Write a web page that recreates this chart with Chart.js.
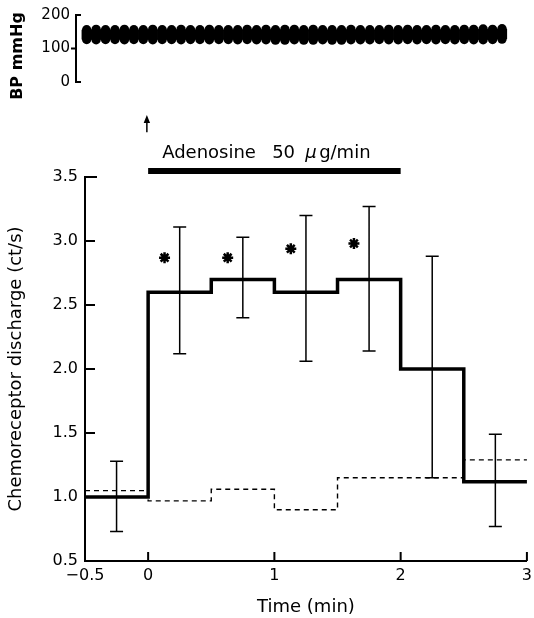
<!DOCTYPE html>
<html>
<head>
<meta charset="utf-8">
<script src="https://cdn.jsdelivr.net/npm/chart.js@4.4.1/dist/chart.umd.min.js"></script>
<style>
  html, body { margin: 0; padding: 0; background: #fff; overflow: hidden; }
  #wrap { position: relative; width: 534px; height: 618px; overflow: hidden; }
  canvas { position: absolute; left: 0; top: 0; }
</style>
</head>
<body>
<div id="wrap">
  <canvas id="main" width="537" height="618"></canvas>
  <canvas id="bp" width="534" height="100"></canvas>
</div>
<script>
// 30 s bins (min)
const binEdges = [-0.5, 0, 0.5, 1, 1.5, 2, 2.5, 3];
const adenosineMean = [1.0, 2.6, 2.7, 2.6, 2.7, 2.0, 1.12];
const controlMean = [1.05, 0.97, 1.06, 0.90, 1.15, 1.15, 1.29];

// error bars (SE) at bin centres
const errTime = [-0.25, 0.25, 0.75, 1.25, 1.75, 2.25, 2.75];
const errUpper = [1.28, 3.11, 3.03, 3.20, 3.27, 2.88, 1.49];
const errLower = [0.73, 2.12, 2.40, 2.06, 2.14, 1.15, 0.77];

// significance marks
const starTime = [0.13, 0.63, 1.13, 1.63];
const starValue = [2.87, 2.87, 2.94, 2.98];

const xTicks = [-0.5, 0, 1, 2, 3];
const yTicks = [0.5, 1.0, 1.5, 2.0, 2.5, 3.0, 3.5];

// infusion period + start arrow
const infusionTime = [0, 2];
const infusionLevel = 3.547;
const arrowTime = -0.01;
const arrowSpan = [3.85, 3.93];

// blood pressure per beat (mmHg)
const bpSys = [156, 157, 156, 156, 157, 156, 156, 157, 156, 156,
               157, 156, 156, 157, 156, 156, 156, 157, 156, 157,
               156, 157, 157, 156, 157, 156, 156, 156, 157, 156,
               156, 156, 157, 156, 157, 156, 156, 157, 156, 156,
               157, 157, 158, 157, 159];
const bpDia = [127, 126, 127, 127, 126, 127, 127, 126, 127, 127,
               126, 127, 127, 126, 127, 127, 126, 127, 126, 126,
               125, 125, 126, 125, 125, 126, 125, 125, 126, 126,
               126, 127, 126, 126, 127, 126, 127, 126, 127, 126,
               127, 126, 126, 127, 128];
const bpTicks = [0, 100, 200];

Chart.defaults.font.family = '"DejaVu Sans", sans-serif';
Chart.defaults.color = '#000';

function steps(mean) {
  return binEdges.map((x, i) => ({ x: x, y: mean[Math.min(i, mean.length - 1)] }));
}

const mainExtras = {
  id: 'mainExtras',
  afterDatasetsDraw(chart) {
    const { ctx, chartArea, scales: { x, y } } = chart;
    ctx.save();
    ctx.strokeStyle = '#000';
    ctx.fillStyle = '#000';
    ctx.lineWidth = 1.5;
    ctx.beginPath();
    errTime.forEach((t, i) => {
      const px = x.getPixelForValue(t);
      const top = y.getPixelForValue(errUpper[i]);
      const bot = y.getPixelForValue(errLower[i]);
      ctx.moveTo(px, top); ctx.lineTo(px, bot);
      ctx.moveTo(px - 6.5, top); ctx.lineTo(px + 6.5, top);
      ctx.moveTo(px - 6.5, bot); ctx.lineTo(px + 6.5, bot);
    });
    ctx.stroke();

    // inward ticks
    ctx.lineWidth = 2;
    ctx.beginPath();
    yTicks.forEach((v, i) => {
      const py = y.getPixelForValue(v);
      ctx.moveTo(chartArea.left, py);
      ctx.lineTo(chartArea.left + (i === yTicks.length - 1 ? 12 : 10), py);
    });
    xTicks.slice(1).forEach(v => {
      const px = x.getPixelForValue(v);
      ctx.moveTo(px, chartArea.bottom);
      ctx.lineTo(px, chartArea.bottom - 9);
    });
    ctx.stroke();

    // arrow head
    const ax = x.getPixelForValue(arrowTime);
    const ay = y.getPixelForValue(arrowSpan[1]);
    ctx.beginPath();
    ctx.moveTo(ax, ay - 7);
    ctx.lineTo(ax - 3.2, ay + 1);
    ctx.lineTo(ax + 3.2, ay + 1);
    ctx.closePath();
    ctx.fill();

    // infusion label
    const x0 = x.getPixelForValue(infusionTime[0]);
    const base = y.getPixelForValue(infusionLevel) - 13;
    ctx.textBaseline = 'alphabetic';
    ctx.font = '18px "DejaVu Sans"';
    ctx.fillText('Adenosine', x0 + 14, base);
    ctx.fillText('50', x0 + 124, base);
    ctx.font = 'italic 18px "DejaVu Sans"';
    ctx.fillText('μ', x0 + 157, base);
    ctx.font = '18px "DejaVu Sans"';
    ctx.fillText('g/min', x0 + 171, base);
    ctx.restore();
  }
};

new Chart(document.getElementById('main'), {
  type: 'line',
  data: {
    datasets: [
      {
        data: steps(adenosineMean),
        stepped: 'before',
        borderColor: '#000',
        borderWidth: 3.5,
        pointRadius: 0
      },
      {
        data: steps(controlMean),
        stepped: 'before',
        borderColor: '#000',
        borderWidth: 1.4,
        borderDash: [5, 4],
        pointRadius: 0
      },
      {
        data: starTime.map((t, i) => ({ x: t, y: starValue[i] })),
        showLine: false,
        pointStyle: 'star',
        pointRadius: 5.5,
        pointBorderWidth: 2.5,
        pointBorderColor: '#000'
      },
      {
        data: infusionTime.map(t => ({ x: t, y: infusionLevel })),
        borderColor: '#000',
        borderWidth: 6,
        borderCapStyle: 'butt',
        pointRadius: 0,
        clip: false
      },
      {
        data: arrowSpan.map(v => ({ x: arrowTime, y: v })),
        borderColor: '#000',
        borderWidth: 1.5,
        pointRadius: 0,
        clip: false
      }
    ]
  },
  options: {
    responsive: false,
    animation: false,
    layout: { padding: { top: 177, right: 0, bottom: 0, left: 0 } },
    plugins: { legend: { display: false }, tooltip: { enabled: false } },
    scales: {
      x: {
        type: 'linear',
        min: -0.5,
        max: 3,
        afterBuildTicks(s) { s.ticks = xTicks.map(v => ({ value: v })); },
        afterFit(s) { s.height = 57; },
        ticks: {
          padding: 5,
          font: { size: 16 },
          callback: v => (v < 0 ? '\u2212' + Math.abs(v) : String(v))
        },
        grid: { display: false, drawTicks: false },
        border: { color: '#000', width: 2 },
        title: { display: true, text: 'Time (min)', font: { size: 18 }, padding: { top: 0, bottom: 0 } }
      },
      y: {
        min: 0.5,
        max: 3.5,
        afterBuildTicks(s) { s.ticks = yTicks.map(v => ({ value: v })); },
        afterFit(s) { s.width = 85; },
        ticks: {
          padding: 7,
          font: { size: 16 },
          callback: v => v.toFixed(1)
        },
        grid: { display: false, drawTicks: false },
        border: { color: '#000', width: 2 },
        title: { display: true, text: 'Chemoreceptor discharge (ct/s)', font: { size: 18 }, padding: { top: 6, bottom: 0 } }
      }
    }
  },
  plugins: [mainExtras]
});

const bpExtras = {
  id: 'bpExtras',
  afterDraw(chart) {
    const { ctx, chartArea, scales: { y } } = chart;
    ctx.save();
    ctx.strokeStyle = '#000';
    ctx.lineWidth = 2;
    ctx.beginPath();
    bpTicks.forEach(v => {
      const py = y.getPixelForValue(v);
      const dir = v === 100 ? -1 : 1;
      ctx.moveTo(chartArea.left, py);
      ctx.lineTo(chartArea.left + dir * 5, py);
    });
    ctx.stroke();
    ctx.translate(18, 56);
    ctx.rotate(-Math.PI / 2);
    ctx.fillStyle = '#000';
    ctx.font = 'bold 16px "DejaVu Sans"';
    ctx.textAlign = 'center';
    ctx.textBaseline = 'middle';
    ctx.fillText('BP mmHg', 0, 0);
    ctx.restore();
  }
};

new Chart(document.getElementById('bp'), {
  type: 'bar',
  data: {
    datasets: [
      {
        type: 'bar',
        data: bpSys.map((s, i) => ({ x: i + 1, y: [bpDia[i], s] })),
        backgroundColor: '#000',
        borderWidth: 0,
        barPercentage: 1.08,
        categoryPercentage: 1
      },
      {
        type: 'line',
        data: bpSys.map((s, i) => ({ x: i + 1, y: s })),
        showLine: false,
        pointRadius: 4.7,
        pointBackgroundColor: '#000',
        pointBorderWidth: 0
      },
      {
        type: 'line',
        data: bpDia.map((d, i) => ({ x: i + 1, y: d })),
        showLine: false,
        pointRadius: 4.7,
        pointBackgroundColor: '#000',
        pointBorderWidth: 0
      }
    ]
  },
  options: {
    responsive: false,
    animation: false,
    layout: { padding: { top: 13, right: 20, bottom: 18, left: 0 } },
    plugins: { legend: { display: false }, tooltip: { enabled: false } },
    scales: {
      x: { type: 'linear', offset: false, min: -0.13, max: 46.27, display: false },
      y: {
        min: 0,
        max: 200,
        afterBuildTicks(s) { s.ticks = bpTicks.map(v => ({ value: v })); },
        afterFit(s) { s.width = 76; },
        ticks: { padding: 6, font: { size: 15 } },
        grid: { display: false, drawTicks: false },
        border: { color: '#000', width: 2 }
      }
    }
  },
  plugins: [bpExtras]
});
</script>
</body>
</html>
